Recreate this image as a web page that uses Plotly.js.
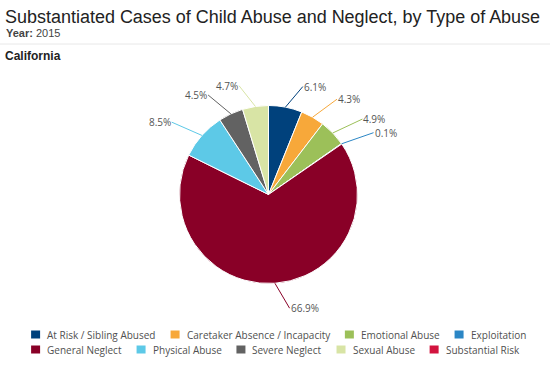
<!DOCTYPE html>
<html><head><meta charset="utf-8">
<script src="https://cdn.plot.ly/plotly-3.0.1.min.js"></script>
<style>html,body{margin:0;padding:0;background:#fff}#chart{width:550px;height:371px}</style>
</head><body><div id="chart"></div>
<script>
// ---- data ----
const categories = ["At Risk / Sibling Abused", "Caretaker Absence / Incapacity", "Emotional Abuse", "Exploitation",
  "General Neglect", "Physical Abuse", "Severe Neglect", "Sexual Abuse", "Substantial Risk"];
const values = [6.1, 4.3, 4.9, 0.1, 66.9, 8.5, 4.5, 4.7, 0];
const colors = ["#00417c", "#f7a83a", "#9cc059", "#2b86c5", "#890027", "#5dc9e7", "#626262", "#d8e4a5", "#d2133e"];
const chartTitle = "Substantiated Cases of Child Abuse and Neglect, by Type of Abuse";
const yearText = "2015";
const regionText = "California";

// ---- layout geometry (pixels) ----
const W = 550, H = 371;
const cx = 268.5, cy = 194.5, R = 89;
const px = x => x / W, py = y => 1 - y / H;

const total = values.reduce((a, b) => a + b, 0);
const annotations = [];
const shapes = [];
const ctx = document.createElement('canvas').getContext('2d');

// pie data labels with connectors
let cum = 0;
values.forEach((v, i) => {
  const mid = (cum + v / 2) / total * 2 * Math.PI;
  cum += v;
  if (v <= 0) return;
  const s = Math.sin(mid), c = Math.cos(mid);
  const ex = cx + R * s, ey = cy - R * c;
  const side = s >= 0 ? 1 : -1;
  const lx = cx + (R + 23) * s + 13 * side, ly = cy - (R + 23) * c + 2;
  annotations.push({
    x: px(ex), y: py(ey), xref: 'paper', yref: 'paper',
    ax: lx - ex, ay: ly - ey,
    text: v.toFixed(1) + '%', showarrow: true, arrowhead: 0, arrowwidth: 1,
    arrowcolor: colors[i], standoff: 0, borderpad: 0,
    xanchor: side > 0 ? 'left' : 'right', yanchor: 'middle',
    font: {family: '"Open Sans", Arial, sans-serif', size: 10, color: '#555555'}
  });
});

// headings
ctx.font = '20px "Liberation Sans"';
const titleSize = Math.min(20, 20 * 538 / ctx.measureText(chartTitle).width);
annotations.push({x: px(4), y: py(17), xref: 'paper', yref: 'paper', xanchor: 'left', yanchor: 'middle',
  showarrow: false, borderpad: 0, text: chartTitle,
  font: {family: '"Liberation Sans", Arial, sans-serif', size: titleSize, color: '#222222'}});
annotations.push({x: px(5), y: py(33), xref: 'paper', yref: 'paper', xanchor: 'left', yanchor: 'middle',
  showarrow: false, borderpad: 0, text: '<b>Year:</b> ' + yearText,
  font: {family: '"Liberation Sans", Arial, sans-serif', size: 11, color: '#444444'}});
annotations.push({x: px(4), y: py(55.5), xref: 'paper', yref: 'paper', xanchor: 'left', yanchor: 'middle',
  showarrow: false, borderpad: 0, text: '<b>' + regionText + '</b>',
  font: {family: '"Liberation Sans", Arial, sans-serif', size: 12, color: '#222222'}});
shapes.push({type: 'line', xref: 'paper', yref: 'paper', x0: 0, x1: 1, y0: py(44), y1: py(44),
  line: {color: '#e8e8e8', width: 1}});

// custom legend (Highcharts-style flow layout)
const legendFont = '"Open Sans", Arial, sans-serif', legendSize = 10;
ctx.font = legendSize + 'px "Open Sans"';
const symW = 9, textOff = 15, gap = 16, maxW = 505;
const items = categories.map((name, i) => ({name, i, w: textOff + ctx.measureText(name).width}));
const rows = [[]];
let rowW = 0;
items.forEach(it => {
  const need = rowW === 0 ? it.w : rowW + gap + it.w;
  if (need > maxW && rows[rows.length - 1].length) { rows.push([]); rowW = it.w; }
  else rowW = need;
  rows[rows.length - 1].push(it);
});
const rowWidths = rows.map(r => r.reduce((a, it, k) => a + it.w + (k ? gap : 0), 0));
const boxW = Math.max(...rowWidths);
const left = 278 - boxW / 2;
const rowY0 = 334.5, rowStep = 15;
rows.forEach((r, ri) => {
  let x = left;
  const y = rowY0 + ri * rowStep;
  r.forEach(it => {
    shapes.push({type: 'rect', xref: 'paper', yref: 'paper',
      x0: px(x), x1: px(x + symW), y0: py(y + 4), y1: py(y - 4),
      fillcolor: colors[it.i], line: {width: 0}});
    annotations.push({x: px(x + textOff), y: py(y), xref: 'paper', yref: 'paper',
      xanchor: 'left', yanchor: 'middle', showarrow: false, borderpad: 0, text: it.name,
      font: {family: legendFont, size: legendSize, color: '#505050'}});
    x += it.w + gap;
  });
});

const trace = {
  type: 'pie', labels: categories, values: values,
  marker: {colors: colors, line: {color: '#ffffff', width: 1}},
  sort: false, direction: 'clockwise', rotation: 0,
  textinfo: 'none', hoverinfo: 'label+percent', showlegend: false,
  domain: {x: [px(cx - R), px(cx + R)], y: [py(cy + R), py(cy - R)]}
};

Plotly.newPlot('chart', [trace], {
  width: W, height: H, margin: {l: 0, r: 0, t: 0, b: 0},
  paper_bgcolor: '#ffffff', plot_bgcolor: '#ffffff',
  showlegend: false, annotations, shapes
}, {displayModeBar: false, staticPlot: true});
</script>
</body></html>
